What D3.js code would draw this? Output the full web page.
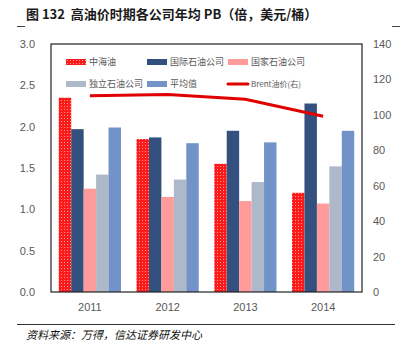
<!DOCTYPE html>
<html>
<head>
<meta charset="utf-8">
<script src="https://cdn.jsdelivr.net/npm/d3@7"></script>
<style>
  body { margin: 0; background: #fff; }
  svg { display: block; }
</style>
</head>
<body>
<svg id="chart"></svg>
<script>
const width = 403;
const height = 354;
const margin = { top: 44, right: 41, bottom: 62, left: 51 };

// 数据
const years = ["2011", "2012", "2013", "2014"];
const seriesNames = ["中海油", "国际石油公司", "国家石油公司", "独立石油公司", "平均值"];
const cnooc = [2.35, 1.85, 1.55, 1.20];
const intlOil = [1.97, 1.87, 1.95, 2.28];
const natOil = [1.25, 1.15, 1.10, 1.07];
const indepOil = [1.42, 1.36, 1.33, 1.52];
const average = [1.99, 1.80, 1.81, 1.95];
const brent = [110.8, 111.5, 108.8, 99.2];
const leftTicks = [0, 0.5, 1.0, 1.5, 2.0, 2.5, 3.0];
const rightTicks = [0, 20, 40, 60, 80, 100, 120, 140];

const barValues = [cnooc, intlOil, natOil, indepOil, average];
const colors = ["url(#dots)", "#33507e", "#ff9b9b", "#adb9ca", "#7193c8"];

const svg = d3.select("#chart").attr("width", width).attr("height", height);

// 中海油的点状填充
const pat = svg.append("defs").append("pattern")
    .attr("id", "dots")
    .attr("width", 3).attr("height", 3)
    .attr("patternUnits", "userSpaceOnUse");
pat.append("rect").attr("width", 3).attr("height", 3).attr("fill", "#ff1a1a");
pat.append("rect").attr("x", 1).attr("y", 1).attr("width", 1).attr("height", 1).attr("fill", "#ff9a9a");

const x0 = d3.scaleBand()
    .domain(years)
    .range([margin.left, width - margin.right])
    .paddingInner(0.2)
    .paddingOuter(0.1);

const x1 = d3.scaleBand()
    .domain(d3.range(seriesNames.length))
    .range([0, x0.bandwidth()]);

const yLeft = d3.scaleLinear().domain([0, 3]).range([height - margin.bottom, margin.top]);
const yRight = d3.scaleLinear().domain([0, 140]).range([height - margin.bottom, margin.top]);

// 标题
svg.append("text")
    .attr("x", 26).attr("y", 19)
    .style("white-space", "pre")
    .style("font-family", "'Noto Sans CJK SC', sans-serif")
    .style("font-size", "13px")
    .style("font-weight", "bold")
    .style("fill", "#1a1a1a")
    .text("图 132  高油价时期各公司年均 PB（倍，美元/桶）");

svg.append("line").attr("x1", 17).attr("x2", 25).attr("y1", 26.5).attr("y2", 26.5)
    .attr("stroke", "#444").attr("stroke-width", 1);
svg.append("line").attr("x1", 392).attr("x2", 400).attr("y1", 26.5).attr("y2", 26.5)
    .attr("stroke", "#444").attr("stroke-width", 1);

// 柱子
barValues.forEach((vals, si) => {
    svg.append("g").selectAll("rect")
        .data(vals)
        .enter().append("rect")
        .attr("x", (d, i) => x0(years[i]) + x1(si))
        .attr("y", d => yLeft(d))
        .attr("width", x1.bandwidth())
        .attr("height", d => yLeft(0) - yLeft(d))
        .attr("fill", colors[si]);
});

// Brent 油价线
const line = d3.line()
    .x((d, i) => x0(years[i]) + x0.bandwidth() / 2)
    .y(d => yRight(d));

svg.append("path")
    .datum(brent)
    .attr("d", line)
    .attr("fill", "none")
    .attr("stroke", "#e00000")
    .attr("stroke-width", 3);

// 边框
svg.append("rect")
    .attr("x", margin.left).attr("y", margin.top)
    .attr("width", width - margin.left - margin.right)
    .attr("height", height - margin.top - margin.bottom)
    .attr("fill", "none")
    .attr("stroke", "#222")
    .attr("stroke-width", 1.2);

const tickFont = "'Liberation Sans Narrow', 'Arial Narrow', sans-serif";

// 左轴
const leftAxis = svg.append("g")
    .attr("transform", `translate(${margin.left}, 0)`)
    .call(d3.axisLeft(yLeft).tickValues(leftTicks).tickFormat(d3.format(".1f")).tickSize(0).tickPadding(16));
leftAxis.select(".domain").remove();
leftAxis.selectAll("text").style("font-family", tickFont).style("font-size", "11px").style("fill", "#595959");

// 右轴
const rightAxis = svg.append("g")
    .attr("transform", `translate(${width - margin.right}, 0)`)
    .call(d3.axisRight(yRight).tickValues(rightTicks).tickSize(0).tickPadding(11));
rightAxis.select(".domain").remove();
rightAxis.selectAll("text").style("font-family", tickFont).style("font-size", "11px").style("fill", "#595959");

// X 轴
const xAxis = svg.append("g")
    .attr("transform", `translate(0, ${height - margin.bottom})`)
    .call(d3.axisBottom(x0).tickSize(0).tickPadding(11));
xAxis.select(".domain").remove();
xAxis.selectAll("text").style("font-family", tickFont).style("font-size", "11px").style("fill", "#595959");

// 图例
const legendItems = [
    { name: "中海油", color: colors[0], type: "rect" },
    { name: "国际石油公司", color: colors[1], type: "rect" },
    { name: "国家石油公司", color: colors[2], type: "rect" },
    { name: "独立石油公司", color: colors[3], type: "rect" },
    { name: "平均值", color: colors[4], type: "rect" },
    { name: "Brent油价(右)", color: "#e00000", type: "line" }
];

const legend = svg.append("g");
legendItems.forEach((item, i) => {
    const col = i % 3;
    const row = Math.floor(i / 3);
    const gx = 66 + col * 81;
    const gy = 62 + row * 22;
    const g = legend.append("g").attr("transform", `translate(${gx}, ${gy})`);
    if (item.type === "rect") {
        g.append("rect").attr("x", 0).attr("y", -3).attr("width", 20).attr("height", 6).attr("fill", item.color);
    } else {
        g.append("line").attr("x1", 0).attr("x2", 20).attr("y1", 0).attr("y2", 0)
            .attr("stroke", item.color).attr("stroke-width", 3).attr("stroke-linecap", "round");
    }
    g.append("text")
        .attr("x", 23).attr("y", 0).attr("dy", "0.35em")
        .style("font-family", "'Noto Sans CJK SC', sans-serif")
        .style("font-size", item.type === "line" ? "8px" : "9px")
        .style("fill", "#595959")
        .text(item.name);
});

// 底部来源
svg.append("line").attr("x1", 17).attr("x2", 395).attr("y1", 324.5).attr("y2", 324.5)
    .attr("stroke", "#333").attr("stroke-width", 1);
svg.append("text")
    .attr("x", 26).attr("y", 339)
    .style("font-family", "'Noto Sans CJK SC', sans-serif")
    .style("font-size", "11px")
    .style("font-style", "italic")
    .style("fill", "#111")
    .text("资料来源：万得，信达证券研发中心");
</script>
</body>
</html>
